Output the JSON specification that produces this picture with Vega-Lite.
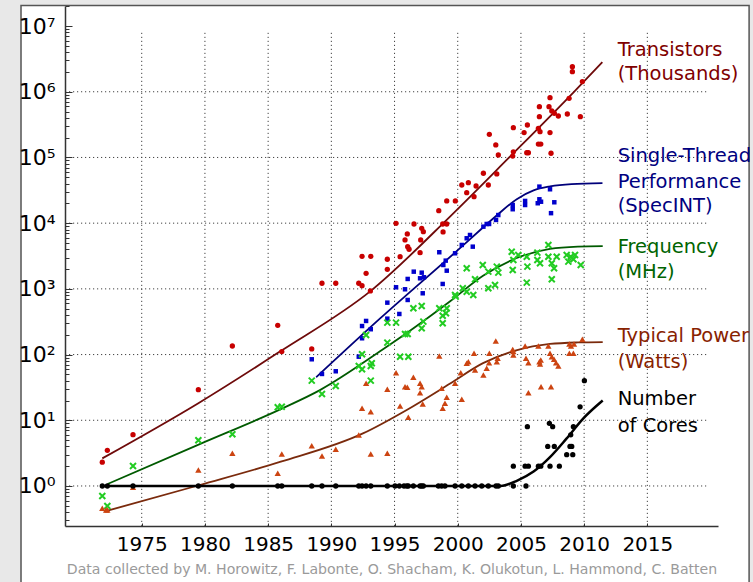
{
  "$schema": "https://vega.github.io/schema/vega-lite/v6.json",
  "width": 653,
  "height": 520,
  "autosize": {"type": "none"},
  "padding": {"left": 65, "top": 6, "right": 35, "bottom": 56},
  "background": "#e8e8e8",
  "config": {"view": {"stroke": null}, "font": "DejaVu Sans"},
  "datasets": {
    "panel": [{"a": 1965.45, "b": 2023.05, "lo": 0.018, "hi": 20500000}],
    "hg": [{"v": 1, "a": 1968.93, "b": 2019.72}, {"v": 10, "a": 1968.93, "b": 2019.72}, {"v": 100, "a": 1968.93, "b": 2019.72}, {"v": 1000, "a": 1968.93, "b": 2019.72}, {"v": 10000, "a": 1968.93, "b": 2019.72}, {"v": 100000, "a": 1968.93, "b": 2019.72}, {"v": 1000000, "a": 1968.93, "b": 2019.72}],
    "vg": [{"year": 1975, "lo": 0.246, "hi": 8700000}, {"year": 1980, "lo": 0.246, "hi": 8700000}, {"year": 1985, "lo": 0.246, "hi": 8700000}, {"year": 1990, "lo": 0.246, "hi": 8700000}, {"year": 1995, "lo": 0.246, "hi": 8700000}, {"year": 2000, "lo": 0.246, "hi": 8700000}, {"year": 2005, "lo": 0.246, "hi": 8700000}, {"year": 2010, "lo": 0.246, "hi": 8700000}, {"year": 2015, "lo": 0.246, "hi": 8700000}],
    "T": [{"year":1971.88,"v":2.3},{"year":1972.28,"v":3.49},{"year":1974.31,"v":6.04},{"year":1979.48,"v":29.2},{"year":1982.17,"v":135},{"year":1985.76,"v":279},{"year":1986.08,"v":111},{"year":1988.45,"v":122},{"year":1989.26,"v":1217},{"year":1990.35,"v":1217},{"year":1992.17,"v":1217},{"year":1992.43,"v":1119},{"year":1992.75,"v":1727},{"year":1992.43,"v":3134},{"year":1993.12,"v":3134},{"year":1993.09,"v":929},{"year":1994.43,"v":2825},{"year":1994.43,"v":1987},{"year":1995.12,"v":9960},{"year":1995.44,"v":3090},{"year":1996.01,"v":6850},{"year":1995.83,"v":5550},{"year":1996.04,"v":4390},{"year":1996.15,"v":4010},{"year":1996.54,"v":9720},{"year":1997.07,"v":5550},{"year":1997.02,"v":3556},{"year":1997.15,"v":8360},{"year":1997.28,"v":7430},{"year":1998.5,"v":15500},{"year":1998.81,"v":9720},{"year":1999.13,"v":9720},{"year":1998.84,"v":7350},{"year":1999.13,"v":21800},{"year":1999.81,"v":21800},{"year":2000.32,"v":38100},{"year":2000.84,"v":41300},{"year":2000.71,"v":29100},{"year":2001.45,"v":36800},{"year":2001.29,"v":25300},{"year":2002.42,"v":38100},{"year":2002.03,"v":57500},{"year":2002.5,"v":225000},{"year":2003.01,"v":155000},{"year":2003.21,"v":109000},{"year":2003.09,"v":56100},{"year":2004.4,"v":284000},{"year":2004.4,"v":122000},{"year":2005.25,"v":239000},{"year":2005.51,"v":312000},{"year":2005.46,"v":118000},{"year":2005.59,"v":118000},{"year":2006.38,"v":278000},{"year":2006.51,"v":247000},{"year":2006.46,"v":418000},{"year":2006.46,"v":593000},{"year":2006.38,"v":160000},{"year":2006.57,"v":160000},{"year":2007.3,"v":239000},{"year":2007.38,"v":116000},{"year":2007.22,"v":593000},{"year":2007.3,"v":813000},{"year":2007.44,"v":510000},{"year":2007.64,"v":471000},{"year":2007.96,"v":428000},{"year":2008.67,"v":459000},{"year":2008.81,"v":796000},{"year":2009.7,"v":418000},{"year":2009.86,"v":1430000},{"year":2009.07,"v":2410000},{"year":2009.07,"v":2020000},{"year":2004.35,"v":105000}],
    "S": [{"year":1988.45,"v":84.8},{"year":1989.26,"v":50.7},{"year":1990.35,"v":55.7},{"year":1992.17,"v":92.9},{"year":1992.43,"v":177},{"year":1992.43,"v":272},{"year":1992.75,"v":325},{"year":1993.12,"v":243},{"year":1994.43,"v":352},{"year":1994.43,"v":617},{"year":1995.38,"v":415},{"year":1995.12,"v":1058},{"year":1995.83,"v":986},{"year":1996.04,"v":678},{"year":1996.04,"v":1416},{"year":1996.52,"v":1828},{"year":1997.02,"v":1449},{"year":1997.15,"v":1765},{"year":1997.23,"v":857},{"year":1997.33,"v":1502},{"year":1998.54,"v":3610},{"year":1998.81,"v":1188},{"year":1998.86,"v":2310},{"year":1999.05,"v":2690},{"year":1999.13,"v":1892},{"year":1999.79,"v":3480},{"year":2000.32,"v":4660},{"year":2000.71,"v":5890},{"year":2000.97,"v":6610},{"year":2001.19,"v":4390},{"year":2002.03,"v":8850},{"year":2002.29,"v":9720},{"year":2002.48,"v":9720},{"year":2003.03,"v":11200},{"year":2003.21,"v":13300},{"year":2004.35,"v":18900},{"year":2004.35,"v":16300},{"year":2005.33,"v":18900},{"year":2005.33,"v":21800},{"year":2006.33,"v":20100},{"year":2006.46,"v":23100},{"year":2006.59,"v":21200},{"year":2006.46,"v":36000},{"year":2007.3,"v":32800},{"year":2007.64,"v":20800},{"year":2007.38,"v":14200}],
    "F": [{"year":1971.88,"v":0.705},{"year":1972.28,"v":0.496},{"year":1974.31,"v":2.02},{"year":1979.48,"v":4.96},{"year":1982.17,"v":6.12},{"year":1985.76,"v":15.8},{"year":1986.08,"v":16.1},{"year":1988.45,"v":40.1},{"year":1989.26,"v":25.1},{"year":1990.35,"v":33.3},{"year":1992.17,"v":67},{"year":1992.43,"v":59.7},{"year":1992.43,"v":101},{"year":1992.75,"v":199},{"year":1993.12,"v":67},{"year":1993.12,"v":40.1},{"year":1993.2,"v":73.7},{"year":1994.43,"v":306},{"year":1994.43,"v":152},{"year":1995.12,"v":306},{"year":1995.83,"v":206},{"year":1996.04,"v":206},{"year":1995.44,"v":92.9},{"year":1996.09,"v":92.9},{"year":1996.49,"v":507},{"year":1997.15,"v":549},{"year":1997.15,"v":251},{"year":1997.28,"v":317},{"year":1998.54,"v":507},{"year":1999.13,"v":507},{"year":1999.07,"v":425},{"year":1998.81,"v":391},{"year":1998.81,"v":299},{"year":1999.84,"v":761},{"year":1999.79,"v":807},{"year":2000.4,"v":1020},{"year":2000.71,"v":906},{"year":2001.23,"v":807},{"year":2002.42,"v":1020},{"year":2002.95,"v":1146},{"year":2000.71,"v":2060},{"year":2001.37,"v":1400},{"year":2001.98,"v":2310},{"year":2002.42,"v":1828},{"year":2003.09,"v":2180},{"year":2003.21,"v":1765},{"year":2004.27,"v":3680},{"year":2004.35,"v":1940},{"year":2004.4,"v":2750},{"year":2004.79,"v":3280},{"year":2005.46,"v":3090},{"year":2005.51,"v":2180},{"year":2005.46,"v":1243},{"year":2006.3,"v":3560},{"year":2006.3,"v":2750},{"year":2006.51,"v":2450},{"year":2007.17,"v":4660},{"year":2007.17,"v":3090},{"year":2007.44,"v":2450},{"year":2007.44,"v":1400},{"year":2007.83,"v":3090},{"year":2007.62,"v":2060},{"year":2008.62,"v":3280},{"year":2008.75,"v":2600},{"year":2008.94,"v":3090},{"year":2009.15,"v":2825},{"year":2009.28,"v":3280},{"year":2009.73,"v":2310}],
    "P": [{"year":1971.88,"v":0.458},{"year":1972.18,"v":0.431},{"year":1972.28,"v":0.431},{"year":1974.31,"v":0.955},{"year":1979.48,"v":1.75},{"year":1982.17,"v":3.15},{"year":1985.76,"v":1.56},{"year":1986.08,"v":3.07},{"year":1988.45,"v":4.11},{"year":1989.26,"v":2.86},{"year":1990.35,"v":3.62},{"year":1992.17,"v":5.97},{"year":1992.43,"v":15.2},{"year":1992.75,"v":36.6},{"year":1993.12,"v":13.5},{"year":1993.12,"v":3.07},{"year":1994.43,"v":29.6},{"year":1994.43,"v":3.15},{"year":1995.12,"v":53},{"year":1995.44,"v":16.5},{"year":1995.83,"v":32.5},{"year":1996.01,"v":31.8},{"year":1996.09,"v":11.1},{"year":1996.49,"v":45.1},{"year":1997.02,"v":36.6},{"year":1997.15,"v":32.5},{"year":1997.02,"v":26.3},{"year":1997.23,"v":17.7},{"year":1998.54,"v":95.2},{"year":1998.81,"v":15.2},{"year":1998.99,"v":18.1},{"year":1999.13,"v":22.4},{"year":1998.73,"v":30.7},{"year":1999.79,"v":36.6},{"year":2000.32,"v":20.9},{"year":2000.24,"v":53},{"year":2000.71,"v":73.7},{"year":2000.84,"v":78},{"year":2001.29,"v":105},{"year":2001.37,"v":58.3},{"year":2002.03,"v":48.9},{"year":2002.29,"v":61.9},{"year":2002.48,"v":75.3},{"year":2002.5,"v":105},{"year":2003.01,"v":161},{"year":2003.09,"v":78},{"year":2003.16,"v":87.9},{"year":2004.35,"v":120},{"year":2004.4,"v":98.6},{"year":2004.4,"v":111},{"year":2005.33,"v":135},{"year":2005.4,"v":87.9},{"year":2005.59,"v":75.3},{"year":2005.59,"v":26.3},{"year":2006.38,"v":135},{"year":2006.46,"v":78},{"year":2006.51,"v":71.9},{"year":2006.57,"v":82.8},{"year":2006.59,"v":32.5},{"year":2007.38,"v":32.5},{"year":2007.17,"v":135},{"year":2007.3,"v":105},{"year":2007.44,"v":92.9},{"year":2007.62,"v":84.8},{"year":2007.78,"v":75.3},{"year":2007.96,"v":67},{"year":2008.83,"v":145},{"year":2008.96,"v":135},{"year":2009.2,"v":145},{"year":2008.83,"v":105},{"year":2009.15,"v":105},{"year":2009.86,"v":171}],
    "C": [{"year":1971.88,"v":1},{"year":1972.28,"v":1},{"year":1974.31,"v":1},{"year":1979.48,"v":1},{"year":1982.17,"v":1},{"year":1985.76,"v":1},{"year":1986.08,"v":1},{"year":1988.45,"v":1},{"year":1989.26,"v":1},{"year":1990.35,"v":1},{"year":1992.17,"v":1},{"year":1992.43,"v":1},{"year":1992.75,"v":1},{"year":1993.12,"v":1},{"year":1994.43,"v":1},{"year":1995.04,"v":1},{"year":1995.38,"v":1},{"year":1995.75,"v":1},{"year":1995.97,"v":1},{"year":1996.09,"v":1},{"year":1996.49,"v":1},{"year":1997.02,"v":1},{"year":1997.15,"v":1},{"year":1997.28,"v":1},{"year":1998.47,"v":1},{"year":1998.73,"v":1},{"year":1998.99,"v":1},{"year":1999.79,"v":1},{"year":2000.32,"v":1},{"year":2000.84,"v":1},{"year":2001.37,"v":1},{"year":2001.9,"v":1},{"year":2002.42,"v":1},{"year":2003.03,"v":1},{"year":2003.21,"v":1},{"year":2004.4,"v":1},{"year":2005.4,"v":1},{"year":2004.4,"v":2},{"year":2005.33,"v":2},{"year":2005.59,"v":2},{"year":2006.38,"v":2},{"year":2006.57,"v":2},{"year":2007.3,"v":2},{"year":2008.04,"v":2},{"year":2007.12,"v":4},{"year":2007.64,"v":4},{"year":2008.88,"v":4},{"year":2009.02,"v":4},{"year":2008.62,"v":3},{"year":2009.1,"v":3},{"year":2005.51,"v":8},{"year":2007.25,"v":9},{"year":2007.51,"v":8},{"year":2009.15,"v":8},{"year":2008.94,"v":6},{"year":2009.68,"v":16},{"year":2010.02,"v":40}],
    "fT": [{"year":1971.88,"v":2.63},{"year":1979.48,"v":18.2},{"year":1985.96,"v":112},{"year":1993.12,"v":933},{"year":1999.39,"v":12600},{"year":2004.07,"v":100000},{"year":2009.2,"v":1000000},{"year":2011.44,"v":2820000}],
    "fS": [{"year":1988.8,"v":45.2},{"year":1993.86,"v":355},{"year":2000.18,"v":4170},{"year":2001.8,"v":7940},{"year":2003.1,"v":13200},{"year":2004.7,"v":23400},{"year":2006.0,"v":31600},{"year":2007.3,"v":36300},{"year":2009.0,"v":39400},{"year":2011.45,"v":40700}],
    "fF": [{"year":1972.3,"v":1.07},{"year":1979.5,"v":4.27},{"year":1986.0,"v":14.8},{"year":1989.1,"v":28.8},{"year":1994.0,"v":117},{"year":1996.5,"v":251},{"year":1999.4,"v":646},{"year":2002.0,"v":1580},{"year":2004.67,"v":2950},{"year":2007.3,"v":4070},{"year":2009.5,"v":4400},{"year":2011.47,"v":4470}],
    "fP": [{"year":1972.3,"v":0.421},{"year":1979.6,"v":1.035},{"year":1986.0,"v":2.34},{"year":1992.5,"v":6.31},{"year":1996.0,"v":14.5},{"year":1999.4,"v":36.3},{"year":2002.0,"v":74.1},{"year":2004.7,"v":117},{"year":2007.3,"v":145},{"year":2009.5,"v":153},{"year":2011.47,"v":155}],
    "fC": [{"year":1971.9,"v":1},{"year":2003.4,"v":1},{"year":2004.67,"v":1.2},{"year":2006.0,"v":1.66},{"year":2007.3,"v":2.75},{"year":2008.6,"v":5.25},{"year":2009.94,"v":10.7},{"year":2011.47,"v":20}],
    "lab": [{"s":"T","txt":"Transistors","year":2012.65,"v":3510000},{"s":"T","txt":"(Thousands)","year":2012.65,"v":1510000},{"s":"S","txt":"Single-Thread","year":2012.65,"v":83900},{"s":"S","txt":"Performance","year":2012.65,"v":34900},{"s":"S","txt":"(SpecINT)","year":2012.65,"v":14600},{"s":"F","txt":"Frequency","year":2012.65,"v":3520},{"s":"F","txt":"(MHz)","year":2012.65,"v":1470},{"s":"P","txt":"Typical Power","year":2012.65,"v":157},{"s":"P","txt":"(Watts)","year":2012.65,"v":61.8},{"s":"C","txt":"Number","year":2012.65,"v":17.1},{"s":"C","txt":"of Cores","year":2012.65,"v":6.7}]
  },
  "layer": [
    {
      "data": {"name": "panel"},
      "mark": {"type": "rect", "fill": "#ffffff", "stroke": "#555555", "strokeWidth": 1.5},
      "encoding": {
        "x": {"field": "a", "type": "quantitative", "scale": {"domain": [1968.93, 2020.59], "nice": false, "zero": false}, "axis": null},
        "x2": {"field": "b"},
        "y": {"field": "hi", "type": "quantitative", "scale": {"type": "log", "domain": [0.246, 20200000], "nice": false}, "axis": null},
        "y2": {"field": "lo"}
      }
    },
    {
      "data": {"name": "hg"},
      "mark": {"type": "rule", "color": "#444444", "strokeWidth": 1, "strokeDash": [1.2, 2.8]},
      "encoding": {
        "y": {"field": "v", "type": "quantitative", "scale": {"type": "log", "domain": [0.246, 20200000], "nice": false},
          "axis": {"orient": "left", "values": [0.3,0.4,0.5,0.6,0.7,0.8,0.9,2,3,4,5,6,7,8,9,20,30,40,50,60,70,80,90,200,300,400,500,600,700,800,900,2000,3000,4000,5000,6000,7000,8000,9000,20000,30000,40000,50000,60000,70000,80000,90000,200000,300000,400000,500000,600000,700000,800000,900000,2000000,3000000,4000000,5000000,6000000,7000000,8000000,9000000,20000000], "tickSize": -4, "tickColor": "#333333", "labels": false, "domain": false, "grid": false, "title": null, "zindex": 2}},
        "x": {"field": "a", "type": "quantitative", "scale": {"domain": [1968.93, 2020.59], "nice": false, "zero": false}, "axis": null},
        "x2": {"field": "b"}
      }
    },
    {
      "data": {"name": "vg"},
      "mark": {"type": "rule", "color": "#444444", "strokeWidth": 1, "strokeDash": [1.2, 2.8]},
      "encoding": {
        "x": {"field": "year", "type": "quantitative", "scale": {"domain": [1968.93, 2020.59], "nice": false, "zero": false},
          "axis": {"orient": "bottom", "values": [1975,1980,1985,1990,1995,2000,2005,2010,2015], "format": "d", "tickSize": -3, "tickColor": "#333333", "labelFontSize": 20, "labelColor": "#000000", "labelPadding": 11, "labelFlush": false, "labelOverlap": false, "domainColor": "#333333", "domainWidth": 1.5, "grid": false, "title": "Data collected by M. Horowitz, F. Labonte, O. Shacham, K. Olukotun, L. Hammond, C. Batten", "titleFontSize": 14.1, "titleFontWeight": "normal", "titleColor": "#9a9a9a", "titlePadding": 8, "zindex": 2}},
        "y": {"field": "lo", "type": "quantitative", "scale": {"type": "log", "domain": [0.246, 20200000], "nice": false}, "axis": null},
        "y2": {"field": "hi"}
      }
    },
    {
      "data": {"name": "fT"},
      "mark": {"type": "line", "color": "#6e0a0a", "strokeWidth": 1.8, "interpolate": "monotone"},
      "encoding": {
        "x": {"field": "year", "type": "quantitative", "scale": {"domain": [1968.93, 2020.59], "nice": false, "zero": false}, "axis": null},
        "y": {"field": "v", "type": "quantitative", "scale": {"type": "log", "domain": [0.246, 20200000], "nice": false}, "axis": null}
      }
    },
    {
      "data": {"name": "fS"},
      "mark": {"type": "line", "color": "#00007a", "strokeWidth": 1.8, "interpolate": "monotone"},
      "encoding": {
        "x": {"field": "year", "type": "quantitative", "scale": {"domain": [1968.93, 2020.59], "nice": false, "zero": false}, "axis": null},
        "y": {"field": "v", "type": "quantitative", "scale": {"type": "log", "domain": [0.246, 20200000], "nice": false}, "axis": null}
      }
    },
    {
      "data": {"name": "fF"},
      "mark": {"type": "line", "color": "#005a00", "strokeWidth": 1.8, "interpolate": "monotone"},
      "encoding": {
        "x": {"field": "year", "type": "quantitative", "scale": {"domain": [1968.93, 2020.59], "nice": false, "zero": false}, "axis": null},
        "y": {"field": "v", "type": "quantitative", "scale": {"type": "log", "domain": [0.246, 20200000], "nice": false}, "axis": null}
      }
    },
    {
      "data": {"name": "fP"},
      "mark": {"type": "line", "color": "#7a2a0c", "strokeWidth": 1.8, "interpolate": "monotone"},
      "encoding": {
        "x": {"field": "year", "type": "quantitative", "scale": {"domain": [1968.93, 2020.59], "nice": false, "zero": false}, "axis": null},
        "y": {"field": "v", "type": "quantitative", "scale": {"type": "log", "domain": [0.246, 20200000], "nice": false}, "axis": null}
      }
    },
    {
      "data": {"name": "fC"},
      "mark": {"type": "line", "color": "#000000", "strokeWidth": 2.5, "interpolate": "monotone"},
      "encoding": {
        "x": {"field": "year", "type": "quantitative", "scale": {"domain": [1968.93, 2020.59], "nice": false, "zero": false}, "axis": null},
        "y": {"field": "v", "type": "quantitative", "scale": {"type": "log", "domain": [0.246, 20200000], "nice": false}, "axis": null}
      }
    },
    {
      "data": {"name": "T"},
      "mark": {"type": "point", "shape": "circle", "filled": true, "color": "#c80000", "size": 28, "opacity": 1},
      "encoding": {
        "x": {"field": "year", "type": "quantitative", "scale": {"domain": [1968.93, 2020.59], "nice": false, "zero": false}, "axis": null},
        "y": {"field": "v", "type": "quantitative", "scale": {"type": "log", "domain": [0.246, 20200000], "nice": false},
          "axis": {"orient": "left", "values": [1,10,100,1000,10000,100000,1000000,10000000], "labelExpr": "'10' + ['⁰','¹','²','³','⁴','⁵','⁶','⁷'][round(log(datum.value)/LN10)]", "tickSize": -7, "tickColor": "#333333", "labelFontSize": 22, "labelColor": "#000000", "labelPadding": 17, "domainColor": "#333333", "domainWidth": 1.5, "grid": false, "title": null, "zindex": 2}}
      }
    },
    {
      "data": {"name": "S"},
      "mark": {"type": "point", "shape": "square", "filled": true, "color": "#0000cc", "size": 20, "opacity": 1},
      "encoding": {
        "x": {"field": "year", "type": "quantitative", "scale": {"domain": [1968.93, 2020.59], "nice": false, "zero": false}, "axis": null},
        "y": {"field": "v", "type": "quantitative", "scale": {"type": "log", "domain": [0.246, 20200000], "nice": false}, "axis": null}
      }
    },
    {
      "data": {"name": "F"},
      "mark": {"type": "point", "shape": "M-1,-1L1,1M-1,1L1,-1", "filled": false, "color": "#22cc22", "strokeWidth": 2, "size": 36, "opacity": 1},
      "encoding": {
        "x": {"field": "year", "type": "quantitative", "scale": {"domain": [1968.93, 2020.59], "nice": false, "zero": false}, "axis": null},
        "y": {"field": "v", "type": "quantitative", "scale": {"type": "log", "domain": [0.246, 20200000], "nice": false}, "axis": null}
      }
    },
    {
      "data": {"name": "P"},
      "mark": {"type": "point", "shape": "triangle-up", "filled": true, "color": "#cc4411", "size": 40, "opacity": 1},
      "encoding": {
        "x": {"field": "year", "type": "quantitative", "scale": {"domain": [1968.93, 2020.59], "nice": false, "zero": false}, "axis": null},
        "y": {"field": "v", "type": "quantitative", "scale": {"type": "log", "domain": [0.246, 20200000], "nice": false}, "axis": null}
      }
    },
    {
      "data": {"name": "C"},
      "mark": {"type": "point", "shape": "circle", "filled": true, "color": "#000000", "size": 28, "opacity": 1},
      "encoding": {
        "x": {"field": "year", "type": "quantitative", "scale": {"domain": [1968.93, 2020.59], "nice": false, "zero": false}, "axis": null},
        "y": {"field": "v", "type": "quantitative", "scale": {"type": "log", "domain": [0.246, 20200000], "nice": false}, "axis": null}
      }
    },
    {
      "data": {"name": "lab"},
      "mark": {"type": "text", "align": "left", "baseline": "alphabetic", "fontSize": 19.5, "font": "DejaVu Sans"},
      "encoding": {
        "x": {"field": "year", "type": "quantitative", "scale": {"domain": [1968.93, 2020.59], "nice": false, "zero": false}, "axis": null},
        "y": {"field": "v", "type": "quantitative", "scale": {"type": "log", "domain": [0.246, 20200000], "nice": false}, "axis": null},
        "text": {"field": "txt", "type": "nominal"},
        "color": {"field": "s", "type": "nominal", "scale": {"domain": ["T","S","F","P","C"], "range": ["#800000","#000080","#006400","#882200","#000000"]}, "legend": null}
      }
    }
  ],
  "resolve": {"axis": {"x": "independent", "y": "independent"}}
}
